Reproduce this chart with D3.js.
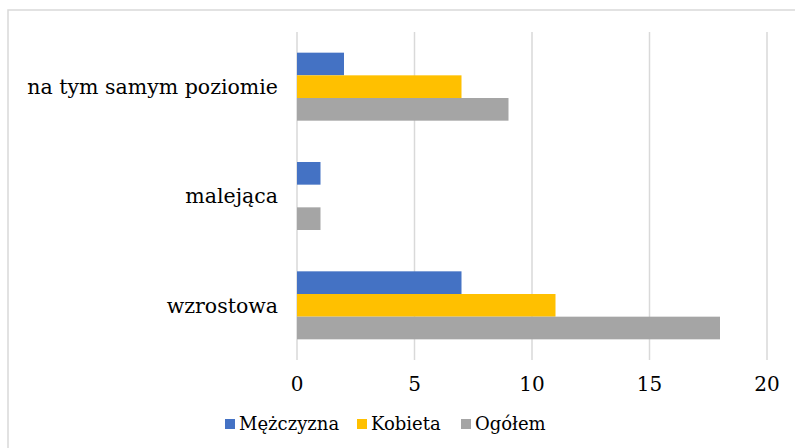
<!DOCTYPE html>
<html>
<head>
<meta charset="utf-8">
<script src="https://cdn.jsdelivr.net/npm/d3@7"></script>
<style>
  body { margin: 0; background: #fff; }
  text { font-family: "DejaVu Serif", serif; fill: #000; }
</style>
</head>
<body>
<svg id="chart" width="795" height="448"></svg>
<script>
// categories from top to bottom
const categories = ['na tym samym poziomie', 'malejąca', 'wzrostowa'];
const seriesNames = ['Mężczyzna', 'Kobieta', 'Ogółem'];
const mezczyzna = [2, 1, 7];
const kobieta = [7, 0, 11];
const ogolem = [9, 1, 18];
const xTicks = [0, 5, 10, 15, 20];

const colors = ['#4472C4', '#FFC000', '#A5A5A5'];
const seriesValues = [mezczyzna, kobieta, ogolem];

const svg = d3.select('#chart');
const margin = {top: 32, right: 28, bottom: 88, left: 297};

// chart frame
svg.append('rect')
    .attr('x', 8).attr('y', 10)
    .attr('width', 800).attr('height', 460)
    .attr('fill', 'none')
    .attr('stroke', '#d9d9d9')
    .attr('stroke-width', 1.5);

const x = d3.scaleLinear().domain([0, 20]).range([margin.left, 767]);
const y = d3.scaleBand().domain(categories).range([margin.top, 360])
    .paddingInner(0.378).paddingOuter(0.189);
const ySub = d3.scaleBand().domain(d3.range(seriesNames.length)).range([0, y.bandwidth()]);

// gridlines
svg.append('g')
    .selectAll('line')
    .data(xTicks)
    .join('line')
    .attr('x1', d => x(d)).attr('x2', d => x(d))
    .attr('y1', margin.top).attr('y2', 360)
    .attr('stroke', '#d9d9d9')
    .attr('stroke-width', 1.5);

// bars
const groups = svg.append('g')
    .selectAll('g')
    .data(categories)
    .join('g')
    .attr('transform', d => `translate(0,${y(d)})`);

groups.selectAll('rect')
    .data((c, ci) => seriesValues.map((vals, si) => ({si, v: vals[ci]})))
    .join('rect')
    .attr('x', x(0))
    .attr('y', d => ySub(d.si))
    .attr('width', d => x(d.v) - x(0))
    .attr('height', ySub.bandwidth())
    .attr('fill', d => colors[d.si]);

// category labels
svg.append('g')
    .selectAll('text')
    .data(categories)
    .join('text')
    .attr('x', 278)
    .attr('y', d => y(d) + y.bandwidth() / 2)
    .attr('dy', '0.35em')
    .attr('text-anchor', 'end')
    .style('font-size', '20.5px')
    .text(d => d);

// x tick labels
svg.append('g')
    .selectAll('text')
    .data(xTicks)
    .join('text')
    .attr('x', d => x(d))
    .attr('y', 384)
    .attr('dy', '0.35em')
    .attr('text-anchor', 'middle')
    .style('font-size', '20px')
    .text(d => d);

// legend
const legendX = [225, 357, 461];
const legend = svg.append('g')
    .selectAll('g')
    .data(seriesNames)
    .join('g')
    .attr('transform', (d, i) => `translate(${legendX[i]},424)`);

legend.append('rect')
    .attr('x', 0).attr('y', -5)
    .attr('width', 10).attr('height', 10)
    .attr('fill', (d, i) => colors[i]);

legend.append('text')
    .attr('x', 14)
    .attr('dy', '0.35em')
    .style('font-size', '18px')
    .text(d => d);
</script>
</body>
</html>
